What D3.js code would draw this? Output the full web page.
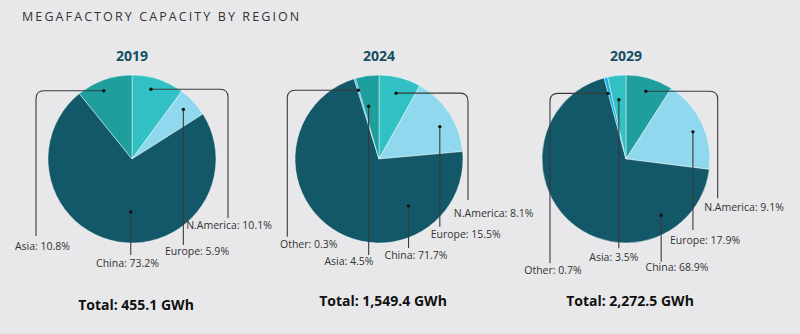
<!DOCTYPE html>
<html><head><meta charset="utf-8">
<script src="https://cdn.jsdelivr.net/npm/d3@7"></script>
<style>
html,body{margin:0;padding:0;background:#e8e8ea;}
svg{display:block;}
</style></head>
<body>
<svg id="chart" width="800" height="334"></svg>
<script>
// ---------- DATA ----------
const years = ["2019", "2024", "2029"];
const totals = ["455.1", "1,549.4", "2,272.5"];
const regions2019 = ["N.America", "Europe", "China", "Asia"];
const values2019 = [10.1, 5.9, 73.2, 10.8];
const regions2024 = ["N.America", "Europe", "China", "Other", "Asia"];
const values2024 = [8.1, 15.5, 71.7, 0.3, 4.5];
const regions2029 = ["N.America", "Europe", "China", "Other", "Asia"];
const values2029 = [9.1, 17.9, 68.9, 0.7, 3.5];

// ---------- STYLE / LAYOUT ----------
const C = {dark:"#135868", teal:"#1f9e9e", light:"#31c0c3", sky:"#8fd8ee", blue:"#1ab0e6"};
const colors = {
  "2019": {"N.America":C.light, "Europe":C.sky, "China":C.dark, "Asia":C.teal},
  "2024": {"N.America":C.light, "Europe":C.sky, "China":C.dark, "Other":C.blue, "Asia":C.teal},
  "2029": {"N.America":C.teal, "Europe":C.sky, "China":C.dark, "Other":C.blue, "Asia":C.light}
};
// leader layout relative to pie centre: k = radius fraction for dot, da = angle shift (deg),
// hx = elbow x (null = straight down), ey = end y, lx/ly = label anchor
const leaders = {
  "2019": {
    "N.America":{k:0.86, da:-3, hx:96, ey:59, lx:97, ly:70},
    "Europe":{k:0.85, da:-1, hx:null, ey:86, lx:65, ly:96},
    "China":{k:0.63, da:-8, hx:null, ey:96, lx:-4.5, ly:108},
    "Asia":{k:0.88, da:-3, hx:-96, ey:77, lx:-89.5, ly:91}
  },
  "2024": {
    "N.America":{k:0.81, da:0, hx:89, ey:41, lx:114.7, ly:57.5},
    "Europe":{k:0.82, da:5, hx:null, ey:67.7, lx:86.7, ly:78.5},
    "China":{k:0.66, da:-66, hx:null, ey:89, lx:37, ly:100},
    "Other":{k:0.855, da:0, hx:-91.7, ey:77.7, lx:-70.3, ly:89},
    "Asia":{k:0.64, da:-3, hx:null, ey:96, lx:-30, ly:106}
  },
  "2029": {
    "N.America":{k:0.84, da:0, hx:91.7, ey:39.3, lx:118, ly:51.5},
    "Europe":{k:0.86, da:3, hx:null, ey:71, lx:79, ly:85},
    "China":{k:0.79, da:-73, hx:null, ey:102.7, lx:51, ly:111.5},
    "Other":{k:0.81, da:-1.5, hx:-76, ey:104.3, lx:-73, ly:115},
    "Asia":{k:0.71, da:-0.6, hx:null, ey:89.3, lx:-12.2, ly:101.5}
  }
};
const pieData = {
  "2019": {regions: regions2019, values: values2019},
  "2024": {regions: regions2024, values: values2024},
  "2029": {regions: regions2029, values: values2029}
};

const W = 800, H = 334, R = 84, CY = 159;
const svg = d3.select("#chart");
svg.append("rect").attr("width", W).attr("height", H).attr("fill", "#e8e8ea");

svg.append("text").attr("x", 22).attr("y", 21)
  .attr("font-family", "'Open Sans', sans-serif").attr("font-size", 12.5)
  .attr("letter-spacing", "2.1px").attr("fill", "#333")
  .text("MEGAFACTORY CAPACITY BY REGION");

const xPos = d3.scalePoint().domain(years).range([132, 626]);
const pie = d3.pie().sort(null).value(d => d.value);
const arc = d3.arc().innerRadius(0).outerRadius(R);

years.forEach((yr, i) => {
  const cx = xPos(yr);
  const g = svg.append("g").attr("transform", `translate(${cx},${CY})`);
  const data = pieData[yr].regions.map((r, j) => ({region: r, value: pieData[yr].values[j]}));
  const arcs = pie(data);

  g.selectAll("path.slice").data(arcs).enter().append("path")
    .attr("class", "slice")
    .attr("d", arc)
    .attr("fill", d => colors[yr][d.data.region])
    .attr("stroke", "rgba(255,255,255,0.55)")
    .attr("stroke-width", 0.8);

  // year title
  svg.append("text").attr("x", cx).attr("y", 61).attr("text-anchor", "middle")
    .attr("font-family", "'Open Sans', sans-serif").attr("font-weight", 700)
    .attr("font-size", 14).attr("fill", "#13505f").text(yr);

  // leaders + labels
  arcs.forEach(a => {
    const L = leaders[yr][a.data.region];
    const ang = (a.startAngle + a.endAngle) / 2 + L.da * Math.PI / 180;
    const dx = Math.sin(ang) * R * L.k, dy = -Math.cos(ang) * R * L.k;
    let path;
    if (L.hx === null) {
      path = `M${dx},${dy}L${dx},${L.ey}`;
    } else {
      const s = L.hx > dx ? 1 : -1, cr = 8;
      path = `M${dx},${dy}L${L.hx - s*cr},${dy}Q${L.hx},${dy} ${L.hx},${dy+cr}L${L.hx},${L.ey}`;
    }
    g.append("path").attr("d", path).attr("fill", "none")
      .attr("stroke", "#3a3a3a").attr("stroke-width", 1.1);
    g.append("circle").attr("cx", dx).attr("cy", dy).attr("r", 1.7).attr("fill", "#111");
    g.append("text").attr("x", L.lx).attr("y", L.ly).attr("text-anchor", "middle")
      .attr("font-family", "'Open Sans', sans-serif").attr("font-size", 10.5)
      .attr("fill", "#333")
      .text(`${a.data.region}: ${a.data.value}%`);
  });

  svg.append("text").attr("x", cx + 4).attr("y", i === 0 ? 310 : 306).attr("text-anchor", "middle")
    .attr("font-family", "'Open Sans', sans-serif").attr("font-weight", 700)
    .attr("font-size", 14).attr("fill", "#111")
    .text(`Total: ${totals[i]} GWh`);
});
</script>
</body></html>
